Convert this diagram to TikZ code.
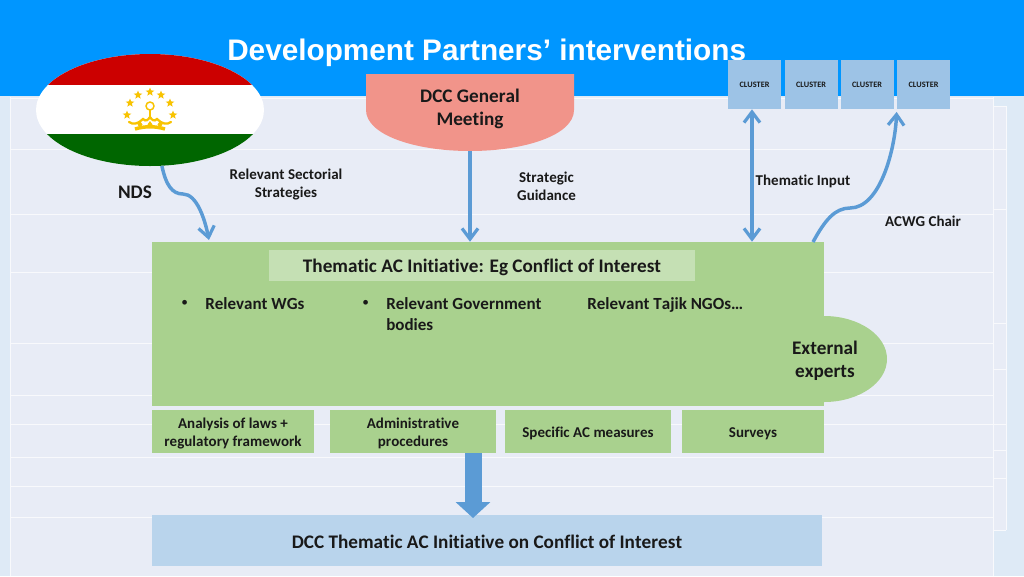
\documentclass[tikz,border=0pt]{standalone}
\usepackage{fontspec}
\setmainfont{Carlito}[RawFeature={-liga;-clig;-calt;-kern}]
\newfontfamily\titlefont{Liberation Sans}
\newcommand{\lowtop}{\rule{0pt}{11.5pt}}
\usetikzlibrary{
  arrows.meta,
  shapes.geometric
}
\definecolor{headblue}{HTML}{0096FF}
\definecolor{pageblue}{HTML}{DEEAF6}
\definecolor{panelblue}{HTML}{E8ECF6}
\definecolor{linkblue}{HTML}{5B9BD5}
\definecolor{clusterblue}{HTML}{9DC3E6}
\definecolor{resultblue}{HTML}{B9D4EC}
\definecolor{boxgreen}{HTML}{A9D18E}
\definecolor{bandgreen}{HTML}{C5E0B4}
\definecolor{meetingred}{HTML}{F1948A}
\definecolor{flagred}{HTML}{CC0000}
\definecolor{flaggreen}{HTML}{006600}
\definecolor{flaggold}{HTML}{F8C300}
\def\px{0.75pt}
\tikzset{
  >={Straight Barb[length=8pt,width=12pt,line width=2.4pt]},
  label/.style={font=\bfseries\fontsize{11.25}{13.5}\selectfont,align=center,text=black!90,
    execute at begin node={\rule{0pt}{11pt}}},
  bigl/.style={font=\bfseries\fontsize{14.4}{17.25}\selectfont,align=center,text=black!90,
    execute at begin node={\rule{0pt}{12.8pt}}},
  listl/.style={font=\bfseries\fontsize{12.75}{15.5}\selectfont,align=left,text=black!90,inner sep=0pt},
  dotl/.style={font=\fontsize{10}{12}\selectfont,text=black!90,inner sep=0pt},
  link/.style={draw=linkblue,line width=2.6pt},
  greenbox/.style={fill=boxgreen,inner sep=0pt,label},
  clusterbox/.style={fill=clusterblue,inner sep=0pt,minimum width=53*\px,minimum height=49*\px,
    font=\bfseries\fontsize{6.2}{7}\selectfont,text=black!90},
  goldstar/.style={star,star points=5,star point ratio=2.3,fill=flaggold,inner sep=0pt,minimum size=9*\px},
  bgline/.style={draw=white!70!panelblue,line width=0.75pt}
}

\begin{document}
\begin{tikzpicture}[x=\px,y=-\px]
\useasboundingbox (0,0) rectangle (1024,576);
% background
\fill[pageblue] (0,0) rectangle (1024,576);
\fill[panelblue] (10,97) rectangle (993,576);
\fill[panelblue] (993,106) rectangle (1006,530);
\foreach \yy in {98,149,214,272,343,395,424,457,486,517}
  \draw[bgline] (10,\yy) -- (993,\yy);
\foreach \yy in {106,149,209,323,369,424,450,478,530}
  \draw[bgline] (993,\yy) -- (1006,\yy);
\draw[bgline] (10,97) -- (10,576);
\draw[bgline] (993,97) -- (993,576);
\draw[bgline] (1006,106) -- (1006,530);
\fill[headblue] (0,0) rectangle (1024,96);
\node[font=\titlefont\bfseries\fontsize{22.3}{26}\selectfont,text=white,anchor=west,inner sep=0pt] (title) at (227,53) {Development Partners’ interventions};

% flag
\node[ellipse,fill=white,inner sep=0pt,minimum width=228*\px,minimum height=112*\px] (flag) at (150,110) {};
\begin{scope}
\clip (150,110) ellipse [x radius=114,y radius=56];
\fill[flagred] (30,50) rectangle (270,85);
\fill[flaggreen] (30,134) rectangle (270,170);
\end{scope}
\foreach \i/\xx/\yy in {1/127/115,2/130/103,3/138/95,4/150/92,5/161/95,6/170/103,7/173/115}
  \node[goldstar] (star\i) at (\xx,\yy) {};
\draw[flaggold,line width=1.7pt,line cap=round] (129,122) .. controls (133,125) and (138,124) .. (143,119)
  .. controls (146,122) and (148,120) .. (150,117) .. controls (152,120) and (154,122) .. (157,119)
  .. controls (162,124) and (167,125) .. (171,122);
\draw[flaggold,line width=1.3pt] (150,117) -- (150,110);
\draw[flaggold,line width=1.1pt] (150,106) circle [radius=4];
\draw[flaggold,line width=2.6pt] (135,129) .. controls (145,126) and (155,126) .. (165,129);
\foreach \xx in {140,150,160}
  \fill[flaggold] (\xx,121) -- (\xx+2.5,124.5) -- (\xx,128) -- (\xx-2.5,124.5) -- cycle;

% meeting
\fill[meetingred] (366,74) -- (574,74) -- (574,110) .. controls (574,135) and (525,151) .. (470,151)
  .. controls (415,151) and (366,135) .. (366,110) -- cycle;
\node[bigl] (dcc) at (470,109) {DCC General\\Meeting};
\coordinate (dccbot) at (470,151);

% clusters
\foreach \i/\xx in {1/754.5,2/811,3/867,4/923.5}
  \node[clusterbox] (cluster\i) at (\xx,84.5) {CLUSTER};

% main block
\fill[boxgreen] (824,316) arc [start angle=90,end angle=-90,x radius=63,y radius=-43];
\node[greenbox,minimum width=672*\px,minimum height=164*\px] (main) at (488,324) {};
\node[fill=bandgreen,inner sep=0pt,minimum width=426*\px,minimum height=31*\px,bigl] (theme) at (482,265.5) {Thematic AC Initiative: Eg Conflict of Interest};
\node[listl,anchor=west] (wgs) at (205,304) {Relevant WGs};
\node[dotl,anchor=west] (wgdot) at (181,303) {•};
\node[listl,anchor=north west] (gov) at (386,297.5) {Relevant Government\\bodies};
\node[dotl,anchor=west] (govdot) at (362,303) {•};
\node[listl,anchor=west] (ngo) at (587,305) {Relevant Tajik NGOs…};
\node[bigl] (ext) at (825,361) {External\\experts};

\node[greenbox,minimum width=162*\px,minimum height=43*\px] (laws) at (233,431.5) {\lowtop Analysis of laws +\\regulatory framework};
\node[greenbox,minimum width=166*\px,minimum height=43*\px] (admin) at (413,431.5) {\lowtop Administrative\\procedures};
\node[greenbox,minimum width=166*\px,minimum height=43*\px] (measures) at (588,431.5) {Specific AC measures};
\node[greenbox,minimum width=142*\px,minimum height=43*\px] (surveys) at (753,431.5) {Surveys};
\node[fill=resultblue,inner sep=0pt,minimum width=670*\px,minimum height=51*\px,bigl] (result) at (487,540.5) {DCC Thematic AC Initiative on Conflict of Interest};

% free labels
\node[label] (sect) at (286,185) {Relevant Sectorial\\Strategies};
\node[bigl] (nds) at (135,190) {NDS};
\node[label] (guide) at (546.5,186) {Strategic\\Guidance};
\node[label] (input) at (803,179) {Thematic Input};
\node[label] (chair) at (923,219) {ACWG Chair};

% connectors
\coordinate (ndsend) at (209,240);
\coordinate (chairstart) at (813,242);
\draw[link,->] (flag.-78) .. controls (166,185) and (172,194) .. (183,194) .. controls (197,194) and (205,220) .. (ndsend);
\draw[link,->] (dccbot) -- (dccbot |- main.north);
\draw[link,<->] (cluster1.south -| 752,0) -- (752,0 |- main.north);
\draw[link,->,shorten >=2pt] (chairstart) .. controls (825,220) and (835,208) .. (850,208) .. controls (880,208) and (895,150) .. (cluster4.south west);
\coordinate (blocktop) at (473,453);
\coordinate (blocktip) at (473,518);
\draw[linkblue,line width=17*\px,-{Triangle[length=16*\px,width=34*\px]}] (blocktop) -- (blocktip);
\end{tikzpicture}
\end{document}
